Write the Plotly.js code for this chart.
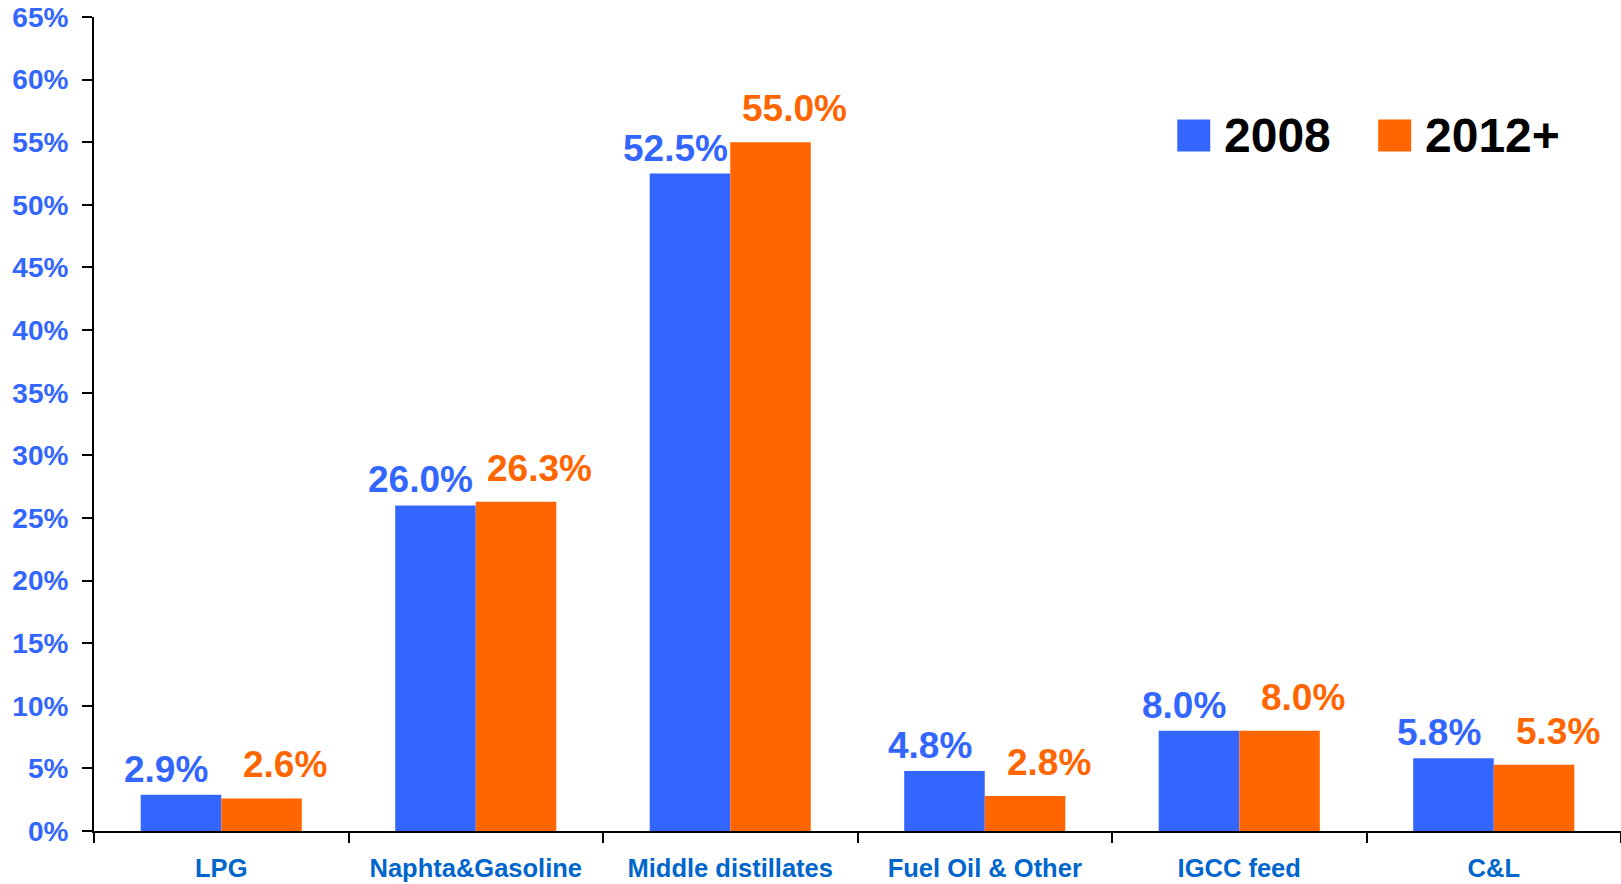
<!DOCTYPE html>
<html>
<head>
<meta charset="utf-8">
<script src="https://cdn.plot.ly/plotly-3.0.1.min.js"></script>
<style>
html,body{margin:0;padding:0;background:#fff;}
#chart{width:1621px;height:884px;}
</style>
</head>
<body>
<div id="chart"></div>
<script>
const categories = ["LPG", "Naphta&Gasoline", "Middle distillates", "Fuel Oil & Other", "IGCC feed", "C&L"];
const series2008 = [2.9, 26.0, 52.5, 4.8, 8.0, 5.8];
const series2012 = [2.6, 26.3, 55.0, 2.8, 8.0, 5.3];
const seriesNames = ["2008", "2012+"];
const yTicks = [0, 5, 10, 15, 20, 25, 30, 35, 40, 45, 50, 55, 60, 65];

const BLUE = "#3366FF";
const ORANGE = "#FF6600";
const FONT = "Liberation Sans, Arial, Helvetica, sans-serif";

const traces = [
  {type: "bar", name: seriesNames[0], x: categories, y: series2008, marker: {color: BLUE}, hoverinfo: "x+y"},
  {type: "bar", name: seriesNames[1], x: categories, y: series2012, marker: {color: ORANGE}, hoverinfo: "x+y"}
];

const annotations = [];
categories.forEach((c, i) => {
  annotations.push({x: c, y: series2008[i], xref: "x", yref: "y", text: "<b>" + series2008[i].toFixed(1) + "%</b>",
    showarrow: false, xanchor: "center", yanchor: "bottom", xshift: -55, yshift: 3,
    font: {family: FONT, size: 37, color: BLUE}});
  annotations.push({x: c, y: series2012[i], xref: "x", yref: "y", text: "<b>" + series2012[i].toFixed(1) + "%</b>",
    showarrow: false, xanchor: "center", yanchor: "bottom", xshift: 64, yshift: 11,
    font: {family: FONT, size: 37, color: ORANGE}});
});
// legend texts
annotations.push({xref: "paper", yref: "paper", x: 0.7389, y: 0.8543, xanchor: "left", yanchor: "middle",
  text: "<b>" + seriesNames[0] + "</b>", showarrow: false, font: {family: FONT, size: 48, color: "#000"}});
annotations.push({xref: "paper", yref: "paper", x: 0.8704, y: 0.8543, xanchor: "left", yanchor: "middle",
  text: "<b>" + seriesNames[1] + "</b>", showarrow: false, font: {family: FONT, size: 48, color: "#000"}});

const shapes = [
  {type: "rect", xref: "paper", yref: "paper", x0: 0.7094, x1: 0.7310, y0: 0.8347, y1: 0.8740, fillcolor: BLUE, line: {width: 0}},
  {type: "rect", xref: "paper", yref: "paper", x0: 0.8410, x1: 0.8626, y0: 0.8347, y1: 0.8740, fillcolor: ORANGE, line: {width: 0}}
];

const layout = {
  width: 1621, height: 884,
  margin: {l: 94, r: 0, t: 17, b: 53, pad: 0},
  paper_bgcolor: "#fff", plot_bgcolor: "#fff",
  showlegend: false,
  barmode: "group",
  bargap: 0.367,
  bargroupgap: 0,
  font: {family: FONT},
  xaxis: {
    type: "category",
    showline: true, linecolor: "#000", linewidth: 2,
    ticks: "outside", tickson: "boundaries", ticklen: 10, tickwidth: 2, tickcolor: "#000",
    showgrid: false, zeroline: false,
    tickfont: {family: FONT, size: 25.5, color: "#0066CC", weight: "bold"},
    ticklabelstandoff: 13
  },
  yaxis: {
    range: [0, 65], tickvals: yTicks, ticktext: yTicks.map(v => v + "%"),
    showline: true, linecolor: "#000", linewidth: 2,
    ticks: "outside", ticklen: 10, tickwidth: 2, tickcolor: "#000",
    showgrid: false, zeroline: false,
    tickfont: {family: FONT, size: 28, color: BLUE, weight: "bold"},
    ticklabelstandoff: 8
  },
  annotations: annotations,
  shapes: shapes
};

Plotly.newPlot("chart", traces, layout, {displayModeBar: false, staticPlot: true});
</script>
</body>
</html>
